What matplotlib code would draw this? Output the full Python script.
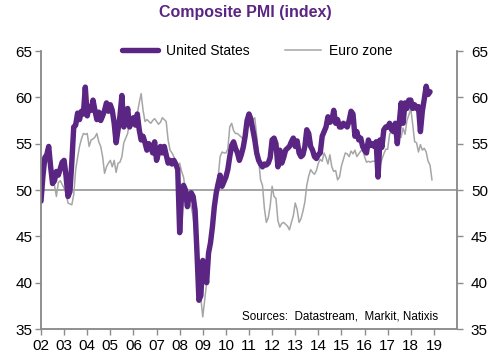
import matplotlib

matplotlib.use("Agg")

import matplotlib.pyplot as plt
import numpy as np

# Monthly composite PMI readings, Jan 2002 onwards
us_pmi = [
    48.8, 51.5, 53.5, 53.8, 54.7, 52.5, 50.7, 51.0, 52.0, 51.6, 52.3, 53.0,  # 2002
    53.2, 51.5, 49.3, 49.8, 53.0, 56.8, 57.0, 58.3, 57.6, 58.5, 58.2, 61.1,  # 2003
    58.0, 59.0, 58.6, 59.7, 58.6, 57.6, 58.4, 57.5, 58.0, 58.6, 59.4, 58.5,  # 2004
    59.2, 58.6, 57.2, 55.1, 56.5, 58.0, 60.2, 56.8, 57.5, 58.8, 56.8, 57.5,  # 2005
    57.8, 57.0, 58.2, 56.5, 55.4, 55.8, 55.1, 54.3, 55.0, 54.7, 54.0, 55.2,  # 2006
    53.2, 54.0, 54.7, 54.0, 54.7, 53.8, 52.9, 53.2, 52.8, 53.2, 52.8, 52.2,  # 2007
    45.4, 49.5, 50.5, 50.0, 48.2, 49.5, 49.7, 49.3, 47.8, 43.2, 38.1, 38.6,  # 2008
    42.4, 41.7, 40.0, 43.2, 44.3, 46.0, 48.2, 49.7, 50.7, 51.6, 50.4, 50.9,  # 2009
    51.4, 52.2, 53.6, 54.8, 55.2, 54.5, 54.0, 53.2, 53.8, 54.6, 55.8, 57.5,  # 2010
    58.2, 57.6, 56.5, 55.4, 54.0, 53.2, 52.8, 52.5, 52.8, 52.7, 52.9, 53.5,  # 2011
    55.4, 55.6, 55.0, 52.5, 54.3, 52.9, 53.5, 54.3, 54.5, 54.7, 55.2, 55.6,  # 2012
    54.7, 55.3, 54.0, 53.6, 53.8, 54.7, 56.5, 56.1, 54.7, 54.3, 53.6, 53.4,  # 2013
    53.8, 54.0, 55.8, 56.3, 56.8, 57.9, 57.3, 57.5, 58.6, 57.2, 57.6, 56.8,  # 2014
    56.8, 57.2, 57.0, 56.8, 57.5, 58.5, 58.2, 55.8, 56.3, 55.4, 55.6, 54.7,  # 2015
    54.3, 54.0, 55.4, 54.8, 55.0, 54.7, 55.2, 51.4, 55.4, 54.6, 56.5, 56.8,  # 2016
    56.8, 57.2, 56.5, 56.3, 57.2, 55.0, 57.2, 59.4, 57.2, 59.4, 58.8, 59.7,  # 2017
    59.7, 58.8, 59.2, 58.8, 59.0, 56.3, 58.5, 59.8, 61.2, 60.3, 60.6,        # 2018
]

ez_pmi = [
    51.5, 52.5, 53.2, 53.0, 53.2, 52.9, 51.1, 50.5, 49.3, 50.8, 51.0, 50.6,  # 2002
    50.2, 49.7, 48.6, 48.5, 48.4, 49.5, 52.2, 53.5, 54.7, 55.5, 56.1, 56.0,  # 2003
    56.1, 54.7, 55.4, 55.5, 55.7, 56.1, 55.2, 54.7, 53.6, 51.8, 52.5, 52.9,  # 2004
    53.2, 52.5, 53.2, 51.9, 52.9, 53.0, 53.6, 55.1, 55.6, 56.1, 57.5, 57.8,  # 2005
    57.5, 57.9, 58.3, 59.4, 60.4, 58.6, 57.4, 57.6, 57.4, 57.2, 57.5, 57.7,  # 2006
    57.4, 57.1, 57.3, 57.8, 57.6, 57.4, 55.4, 54.3, 54.0, 53.6, 53.0, 52.5,  # 2007
    52.9, 52.0, 51.4, 50.0, 49.5, 48.6, 48.2, 47.1, 45.0, 41.7, 39.0, 38.3,  # 2008
    36.3, 38.1, 40.0, 42.4, 44.7, 46.8, 48.6, 50.0, 51.4, 53.6, 54.1, 54.0,  # 2009
    54.0, 54.4, 56.8, 57.2, 56.4, 56.1, 56.1, 55.9, 55.7, 55.5, 56.5, 56.8,  # 2010
    57.0, 58.2, 57.6, 57.8, 55.8, 53.3, 51.1, 50.5, 48.0, 46.5, 47.0, 48.3,  # 2011
    50.4, 49.3, 49.1, 46.7, 46.0, 46.4, 46.5, 46.3, 46.1, 45.7, 46.5, 47.2,  # 2012
    48.6, 47.9, 46.5, 46.9, 47.7, 48.7, 50.5, 51.5, 52.2, 51.9, 51.7, 52.1,  # 2013
    52.9, 53.3, 53.1, 54.0, 53.5, 52.8, 53.8, 52.5, 52.0, 52.1, 51.1, 51.4,  # 2014
    52.6, 53.3, 54.0, 53.9, 53.6, 54.2, 53.9, 54.3, 53.6, 53.9, 54.2, 54.3,  # 2015
    53.6, 53.0, 53.1, 53.0, 53.1, 53.1, 53.2, 52.9, 52.6, 53.3, 53.9, 54.4,  # 2016
    54.4, 56.0, 56.4, 56.8, 56.8, 56.3, 55.7, 55.7, 56.7, 56.0, 57.5, 58.1,  # 2017
    58.8, 57.1, 55.2, 55.1, 54.1, 54.9, 54.3, 54.5, 54.1, 53.1, 52.7, 51.1,  # 2018
]

start_year = 2002
year_labels = ["02", "03", "04", "05", "06", "07", "08", "09", "10",
               "11", "12", "13", "14", "15", "16", "17", "18", "19"]
y_ticks = [35, 40, 45, 50, 55, 60, 65]

purple = "#5b2583"
grey = "#a6a6a6"
axis_grey = "#8c8c8c"

us_x = start_year + np.arange(len(us_pmi)) / 12
ez_x = start_year + np.arange(len(ez_pmi)) / 12

plt.rcParams["font.family"] = ["Liberation Sans", "DejaVu Sans"]

fig = plt.figure(figsize=(4.96, 3.61), dpi=100)
ax = fig.add_axes([41 / 496, 32 / 361, 416 / 496, 278 / 361])

ax.axhline(50, color=axis_grey, lw=1.1, zorder=1)
ax.plot(ez_x, ez_pmi, color=grey, lw=1.1, label="Euro zone", zorder=2)
ax.plot(us_x, us_pmi, color=purple, lw=3.9, label="United States",
        solid_capstyle="round", solid_joinstyle="round", zorder=3)

ax.set_xlim(2002, 2020)
ax.set_ylim(35, 65)
ax.set_yticks(y_ticks)
ax.set_xticks(start_year + np.arange(len(year_labels)))
ax.set_xticklabels(year_labels)

ax2 = ax.twinx()
ax2.set_ylim(35, 65)
ax2.set_yticks(y_ticks)

for a in (ax, ax2):
    a.spines["top"].set_visible(False)
    for s in ("left", "right", "bottom"):
        a.spines[s].set_color(axis_grey)
        a.spines[s].set_linewidth(1.1)
    a.tick_params(colors=axis_grey, labelcolor="black", labelsize=11,
                  length=4, width=1.0, direction="out")
ax.tick_params(axis="x", pad=3)
ax.tick_params(axis="y", pad=2)
ax2.tick_params(axis="y", pad=6)

handles, labels = ax.get_legend_handles_labels()
ax.legend(handles[::-1], labels[::-1], ncol=2, frameon=False, fontsize=10,
          loc="center", bbox_to_anchor=(0.52, 1.0), handlelength=2.6,
          handletextpad=0.6, columnspacing=2.5, borderaxespad=0)

ax.text(0.955, 0.025, "Sources:  Datastream,  Markit, Natixis",
        transform=ax.transAxes, ha="right", va="bottom", fontsize=8.4)

fig.text(245 / 496, 1 - 12 / 361, "Composite PMI (index)", ha="center",
         va="center", fontsize=11.5, fontweight="bold", color=purple)

fig.savefig("out.png", dpi=100)
